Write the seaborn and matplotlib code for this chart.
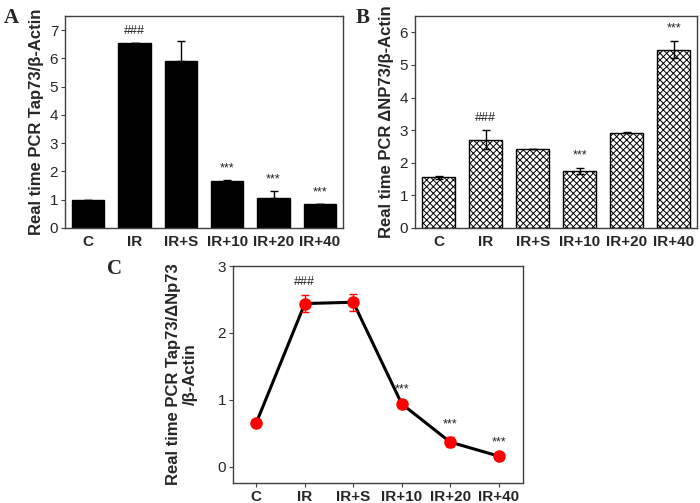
# Real time PCR panels A, B, C

import numpy as np
import pandas as pd
import seaborn as sns
import matplotlib.pyplot as plt

sns.set_theme(style='ticks')
plt.rcParams['font.family'] = ['Liberation Sans', 'DejaVu Sans']
plt.rcParams['hatch.linewidth'] = 0.7

# data
groups = ['C', 'IR', 'IR+S', 'IR+10', 'IR+20', 'IR+40']
tap73 = [1.0, 6.56, 5.92, 1.65, 1.07, 0.83]
tap73_err = [0.0, 0.0, 0.70, 0.03, 0.25, 0.02]
tap73_marks = ['', '###', '', '***', '***', '***']

dnp73 = [1.55, 2.71, 2.41, 1.74, 2.92, 5.47]
dnp73_err = [0.05, 0.29, 0.0, 0.10, 0.02, 0.27]
dnp73_marks = ['', '###', '', '***', '', '***']

ratio = [0.66, 2.44, 2.46, 0.94, 0.37, 0.16]
ratio_err = [0.02, 0.13, 0.13, 0.02, 0.08, 0.02]
ratio_marks = ['', '###', '', '***', '***', '***']

edge = '#404040'
fig = plt.figure(figsize=(7, 5.03), dpi=100)
axA = fig.add_axes([0.093, 0.547, 0.397, 0.421])
axB = fig.add_axes([0.593, 0.547, 0.403, 0.421])
axC = fig.add_axes([0.333, 0.040, 0.414, 0.431])


def style_axis(ax, xticks=True):
    for s in ax.spines.values():
        s.set_visible(True)
        s.set_color(edge)
        s.set_linewidth(1.0)
    ax.tick_params(axis='both', direction='out', length=3, width=0.8,
                   color=edge, labelsize=11, pad=2)
    if not xticks:
        ax.tick_params(axis='x', length=0, pad=5)
    for lab in ax.get_xticklabels():
        lab.set_fontweight('bold')
    ax.set_xlabel('')


def add_marks(ax, tops, marks, off):
    for i, (t, m) in enumerate(zip(tops, marks)):
        if m:
            ax.text(i, t + off, m, ha='center', va='bottom', fontsize=9,
                    color='#222222')


# Panel A
df_a = pd.DataFrame({'group': groups, 'value': tap73})
sns.barplot(data=df_a, x='group', y='value', color='black', width=0.7,
            saturation=1, edgecolor='black', ax=axA)
xs = np.arange(len(groups))
axA.errorbar(xs, tap73, yerr=[np.zeros(6), tap73_err], fmt='none',
             ecolor='black', elinewidth=1, capsize=3)
add_marks(axA, np.array(tap73) + np.array(tap73_err), tap73_marks, 0.2)
axA.set_xlim(-0.5, 5.5)
axA.set_ylim(0, 7.5)
axA.set_yticks(range(0, 8))
axA.set_ylabel('Real time PCR Tap73/β-Actin', fontsize=12, fontweight='bold',
               labelpad=4)
style_axis(axA, xticks=False)

# Panel B
df_b = pd.DataFrame({'group': groups, 'value': dnp73})
sns.barplot(data=df_b, x='group', y='value', color='white', width=0.7,
            saturation=1, edgecolor='black', linewidth=1, hatch='xxxxx',
            ax=axB)
axB.errorbar(xs, dnp73, yerr=dnp73_err, fmt='none',
             ecolor='black', elinewidth=1, capsize=3)
add_marks(axB, np.array(dnp73) + np.array(dnp73_err), dnp73_marks, 0.2)
axB.set_xlim(-0.5, 5.5)
axB.set_ylim(0, 6.5)
axB.set_yticks(range(0, 7))
axB.set_ylabel('Real time PCR ΔNP73/β-Actin', fontsize=12, fontweight='bold',
               labelpad=4)
style_axis(axB, xticks=False)

# Panel C
df_c = pd.DataFrame({'group': groups, 'value': ratio})
sns.lineplot(data=df_c, x='group', y='value', sort=False, color='black',
             linewidth=2.2, ax=axC)
axC.errorbar(xs, ratio, yerr=ratio_err, fmt='o', color='red', ms=8,
             ecolor='red', elinewidth=1, capsize=3, zorder=5)
add_marks(axC, np.array(ratio) + np.array(ratio_err), ratio_marks, 0.1)
axC.set_xlim(-0.48, 5.5)
axC.set_ylim(-0.24, 3)
axC.set_yticks(range(0, 4))
axC.set_ylabel('Real time PCR Tap73/ΔNp73\n/β-Actin', fontsize=12,
               fontweight='bold', labelpad=14)
style_axis(axC)

# panel letters
for x, y, s in [(0.005, 0.965, 'A'), (0.508, 0.965, 'B'), (0.153, 0.465, 'C')]:
    fig.text(x, y, s, fontsize=15, fontweight='bold', family='Liberation Serif',
             va='center')

plt.savefig('out.png', dpi=100)
